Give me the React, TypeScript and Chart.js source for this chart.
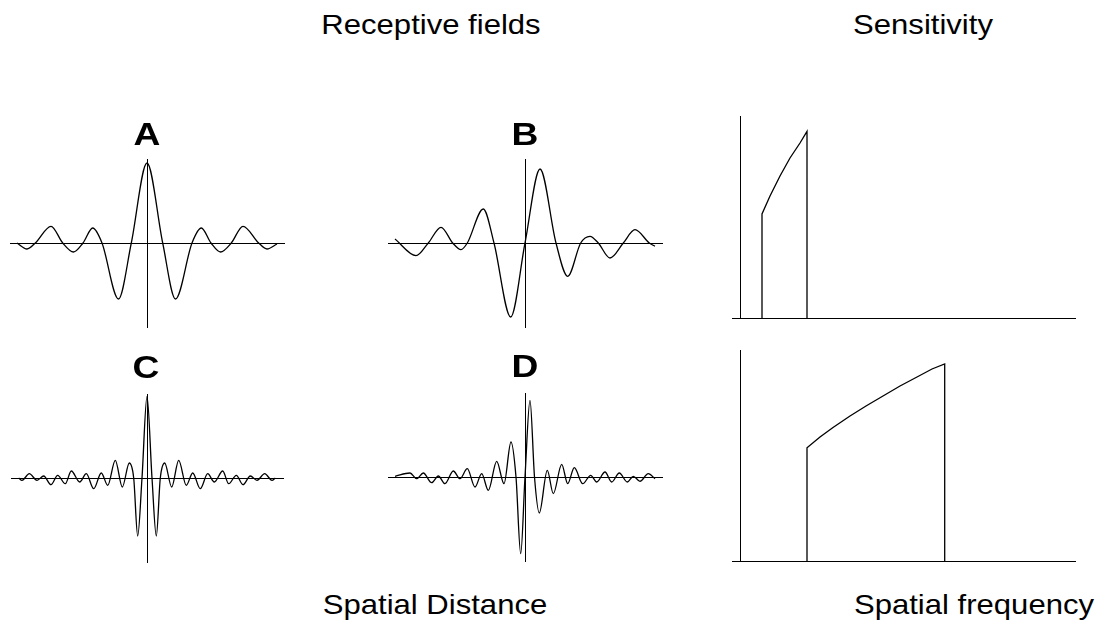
import React, { useEffect, useRef } from 'react';
import { Chart, registerables } from 'chart.js';
Chart.register(...registerables);

// ---- Receptive field profiles (x: spatial distance, y: response) ----
const fieldAX = [-130, -120, -111.7, -96, -84.3, -73.5, -64, -54.3, -45, -28.5, -15.7, 0, 15.7, 28.5, 45, 54.3, 64, 73.5, 84.3, 96, 111.7, 120, 130];
const fieldAY = [0, -6, 0, 16.7, 0, -9, 0, 15, 0, -56, 0, 80, 0, -56, 0, 15, 0, -9, 0, 16.7, 0, -6, -1];

const fieldBX = [-130, -109, -96.7, -84, -72.3, -64, -57.7, -41.7, -31, -14.3, 0, 15, 31, 42.7, 55.7, 65, 73.3, 85, 98.3, 110, 124.3, 130];
const fieldBY = [4, -12.7, 0, 15.7, 0, -6.7, 0, 34, 0, -74, 0, 74, 0, -33.3, 0, 6.7, 0, -15, 0, 13.3, 0, -3.3];

const fieldCX = [-128.3, -125, -117.7, -110, -103.3, -96, -89.3, -81.7, -75.7, -67.3, -60.7, -53.3, -45.7, -39.3, -31.7, -24.7, -17.7, -13.3, -9.3, -5, 0, 5, 9.3, 13.3, 17.7, 24.7, 31.7, 39.3, 45.7, 53.3, 60.7, 67.3, 75.7, 81.7, 89.3, 96, 103.3, 110, 117.7, 125, 128.3];
const fieldCY = [0, -2.3, 4.3, -2.3, 2, -6.7, 2.7, -5.7, 7, -4, 4.3, -10.7, 5, -7.3, 17.7, -9, 15, 0, -58, 0, 81.7, 0, -58, 0, 15, -9, 17.7, -7.3, 5, -10.7, 4.3, -4, 7, -5.7, 2.7, -6.7, 2, -2.3, 4.3, -2.3, 0];

const fieldDX = [-130, -115, -108.3, -101.7, -93.3, -86.7, -80, -71.7, -65, -57.7, -50, -43.3, -36.7, -28.3, -21, -14, -9, -4.3, 0, 5, 9.5, 14.3, 22.3, 28.3, 36.7, 42.7, 49.3, 57.7, 65.7, 71.7, 80, 86.7, 94.3, 102.3, 108.3, 115, 123.3, 130];
const fieldDY = [0.7, 4, -1.7, 4, -5.7, 1, -6.7, 6, -1.7, 8.3, -10, 3.3, -13.3, 15.7, -6.7, 35, 0, -76.7, 0, 76.7, 0, -36, 6.7, -16.7, 12.7, -6.7, 9.3, -6.7, 1.7, -5, 5, -5, 4, -5, 0.7, -4.3, 3.3, -1.7];

// ---- Sensitivity spectra (x: spatial frequency, y: sensitivity) ----
const spectrumTopF = [2.2, 2.2, 3.0, 4.0, 5.0, 6.0, 6.7, 6.7];
const spectrumTopS = [0, 10.4, 12.2, 14.2, 16.0, 17.5, 18.66, 0];

const spectrumBottomF = [6.7, 6.7, 8.0, 9.3, 11.0, 12.6, 14.3, 16.0, 17.7, 19.2, 20.47, 20.47];
const spectrumBottomS = [0, 11.33, 12.4, 13.35, 14.5, 15.5, 16.5, 17.5, 18.4, 19.2, 19.7, 0];

const panelLetters = ['A', 'B', 'C', 'D'];
const headings = ['Receptive fields', 'Sensitivity', 'Spatial Distance', 'Spatial frequency'];

const PAD = 12;

type PanelProps = {
  x0: number; y0: number; x1: number; y1: number;
  xs: number[]; ys: number[];
  xMin: number; xMax: number; yMin: number; yMax: number;
  smooth: boolean;
};

function Panel(p: PanelProps) {
  const ref = useRef<HTMLCanvasElement>(null);
  const w = p.x1 - p.x0 + 2 * PAD;
  const h = p.y1 - p.y0 + 2 * PAD;
  useEffect(() => {
    const pts = p.xs.map((x, i) => ({ x, y: p.ys[i] }));
    const axisOpts = (min: number, max: number, pos: any) => ({
      type: 'linear' as const,
      min, max,
      position: pos,
      grid: { display: false, drawTicks: false, tickLength: 0 },
      ticks: { display: false },
      border: { display: true, color: '#000', width: 1 },
    });
    const chart = new Chart(ref.current as HTMLCanvasElement, {
      type: 'line',
      data: {
        datasets: [{
          data: pts,
          borderColor: '#000',
          borderWidth: 1.3,
          pointRadius: 0,
          fill: false,
          tension: p.smooth ? 0.4 : 0,
          cubicInterpolationMode: p.smooth ? 'monotone' : 'default',
          clip: false as any,
        }],
      },
      options: {
        responsive: false,
        animation: false,
        events: [],
        layout: { padding: PAD },
        plugins: { legend: { display: false }, tooltip: { enabled: false }, title: { display: false } },
        scales: {
          x: axisOpts(p.xMin, p.xMax, { y: 0 }),
          y: axisOpts(p.yMin, p.yMax, { x: 0 }),
        },
      } as any,
    });
    return () => chart.destroy();
  }, []);
  return (
    <canvas
      ref={ref}
      width={w}
      height={h}
      style={{ position: 'absolute', left: p.x0 - PAD, top: p.y0 - PAD, width: w, height: h }}
    />
  );
}

function Label({ text, cx, baseline, size, bold, sx }: { text: string; cx: number; baseline: number; size: number; bold?: boolean; sx: number }) {
  return (
    <div
      style={{
        position: 'absolute',
        left: cx - 200,
        width: 400,
        top: baseline - 0.8465 * size,
        fontSize: size,
        lineHeight: `${size}px`,
        fontFamily: '"Liberation Sans", Arial, Helvetica, sans-serif',
        fontWeight: bold ? 700 : 400,
        textAlign: 'center',
        whiteSpace: 'nowrap',
        color: '#000',
        transform: `scaleX(${sx})`,
        transformOrigin: 'center',
      }}
    >
      {text}
    </div>
  );
}

export default function App() {
  return (
    <div style={{ position: 'absolute', left: 0, top: 0, width: 1102, height: 630, background: '#fff', overflow: 'hidden' }}>
      <Panel x0={10} y0={159} x1={284} y1={327} xs={fieldAX} ys={fieldAY} xMin={-137} xMax={137} yMin={-84} yMax={84} smooth />
      <Panel x0={388} y0={159} x1={662} y1={327} xs={fieldBX} ys={fieldBY} xMin={-137} xMax={137} yMin={-84} yMax={84} smooth />
      <Panel x0={11} y0={394} x1={283} y1={562} xs={fieldCX} ys={fieldCY} xMin={-136} xMax={136} yMin={-84} yMax={84} smooth />
      <Panel x0={388} y0={393} x1={662} y1={561} xs={fieldDX} ys={fieldDY} xMin={-137} xMax={137} yMin={-84} yMax={84} smooth />
      <Panel x0={732} y0={116} x1={1075} y1={318} xs={spectrumTopF} ys={spectrumTopS} xMin={-0.8} xMax={33.5} yMin={0} yMax={20.2} smooth={false} />
      <Panel x0={732} y0={350} x1={1075} y1={561} xs={spectrumBottomF} ys={spectrumBottomS} xMin={-0.8} xMax={33.5} yMin={0} yMax={21.1} smooth={false} />

      <Label text={headings[0]} cx={431} baseline={34.3} size={28.5} sx={1.09} />
      <Label text={headings[1]} cx={923} baseline={34.3} size={28.5} sx={1.09} />
      <Label text={headings[2]} cx={434.7} baseline={614} size={28.5} sx={1.09} />
      <Label text={headings[3]} cx={973.5} baseline={614} size={28.5} sx={1.09} />

      <Label text={panelLetters[0]} cx={147} baseline={145} size={31} bold sx={1.2} />
      <Label text={panelLetters[1]} cx={525} baseline={145} size={31} bold sx={1.2} />
      <Label text={panelLetters[2]} cx={146} baseline={378} size={31} bold sx={1.2} />
      <Label text={panelLetters[3]} cx={525} baseline={377} size={31} bold sx={1.2} />
    </div>
  );
}
